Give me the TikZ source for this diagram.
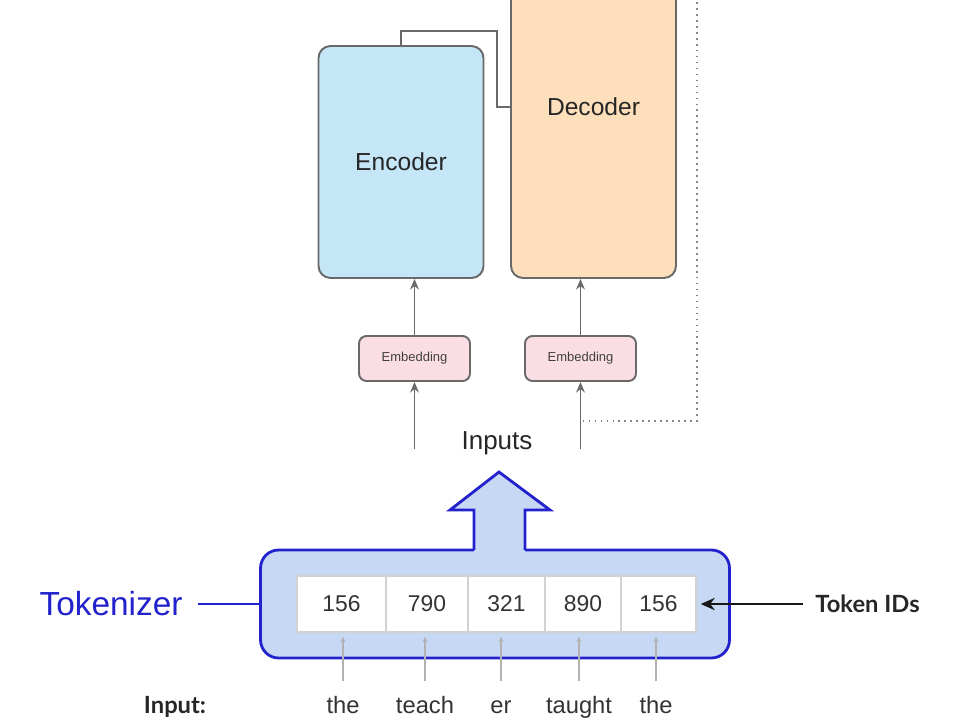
\documentclass[tikz,border=0pt]{standalone}
\usepackage{fontspec}
\setmainfont{Liberation Sans}
\newfontfamily\latofont{Lato}
\usepackage{tikz}
\usetikzlibrary{arrows.meta}

\definecolor{encfill}{RGB}{197,230,247}
\definecolor{decfill}{RGB}{253,223,187}
\definecolor{embfill}{RGB}{251,222,227}
\definecolor{tokfill}{RGB}{198,216,244}
\definecolor{tokblue}{RGB}{34,34,204}
\definecolor{boxgray}{RGB}{105,105,105}

\begin{document}
\begin{tikzpicture}[x=0.02cm,y=-0.02cm,
	block/.style={draw=boxgray,line width=1.1pt,rounded corners=0.24cm,minimum width=3.3cm},
	embed/.style={draw=boxgray,line width=1.1pt,rounded corners=0.15cm,fill=embfill,minimum width=2.22cm,minimum height=0.9cm,font=\fontsize{7.4}{8}\selectfont,text=black!75},
	gline/.style={draw=boxgray,line width=1.1pt},
	garrow/.style={gline,-{Stealth[length=6pt,width=5pt]}},
	cell/.style={draw=black!18,line width=0.8pt,fill=white,minimum height=1.12cm,font=\fontsize{13}{15}\selectfont,text=black!80},
	word/.style={font=\fontsize{13.5}{15}\selectfont,text=black!80,text height=10pt,text depth=3pt},
	tarrow/.style={draw=black!30,line width=0.9pt,-{Stealth[length=3pt,width=3pt]},shorten <=4.5pt,shorten >=2.4pt},
	big/.style={font=\fontsize{14}{16}\selectfont,text=black!85},
	boldlab/.style={font=\latofont\bfseries\fontsize{13.5}{15}\selectfont,text=black!85}]
	\useasboundingbox (0,0) rectangle (973,724);
	% encoder / decoder
	\node[block,fill=encfill,minimum height=4.64cm,big] (enc) at (401,162) {Encoder};
	\node[block,fill=decfill,minimum height=5.96cm] (dec) at (593.5,129) {};
	\node[big] at (593.5,107) {Decoder};
	\draw[gline] (enc.north) -- (401,31) -- (497,31) -- (497,107) -- (dec.west |- 497,107);
	\draw[boxgray!80,line width=1pt,dash pattern=on 1pt off 2.4pt] (697,-10) -- (697,421) -- (580.5,421);
	% embeddings
	\node[embed] (emb1) at (414.5,358.5) {Embedding};
	\node[embed] (emb2) at (580.5,358.5) {Embedding};
	\coordinate (in1) at (414.5,449);
	\coordinate (in2) at (580.5,449);
	\draw[garrow] (in1) -- (emb1);
	\draw[garrow] (emb1) -- (emb1.north |- enc.south);
	\draw[garrow] (in2) -- (emb2);
	\draw[garrow] (emb2) -- (emb2.north |- dec.south);
	\node[big,font=\fontsize{14.8}{16}\selectfont] (inp) at (497,443) {Inputs};
	% tokenizer
	\node[draw=tokblue,line width=1.6pt,fill=tokfill,rounded corners=0.36cm,minimum width=9.38cm,minimum height=2.16cm] (tkz) at (495,604) {};
	\fill[tokfill] (474,553) -- (474,510) -- (450,510) -- (499,472) -- (550,510) -- (525,510) -- (525,553) -- cycle;
	\draw[tokblue,line width=1.6pt,line cap=square] (474,550) -- (474,510) -- (450,510) -- (499,472) -- (550,510) -- (525,510) -- (525,550);
	\node[cell,minimum width=1.78cm] (c1) at (341.5,604) {156};
	\node[cell,minimum width=1.64cm] (c2) at (427,604) {790};
	\node[cell,minimum width=1.54cm] (c3) at (506.5,604) {321};
	\node[cell,minimum width=1.52cm] (c4) at (583,604) {890};
	\node[cell,minimum width=1.5cm] (c5) at (658.5,604) {156};
	\node[font=\fontsize{19}{21}\selectfont,text=tokblue] (tkl) at (111,604) {Tokenizer};
	\draw[tokblue,line width=1.1pt,shorten <=5.2pt] (tkl.east) -- (tkz.west);
	\node[boldlab] (tid) at (867.5,604) {Token IDs};
	\draw[black!90,line width=1.2pt,-{Stealth[length=8pt,width=7pt]},shorten <=3.4pt,shorten >=2.3pt] (tid.west) -- (c5.east);
	% input words
	\node[boldlab,text height=10pt,text depth=3pt] (inlab) at (175,707) {Input:};
	\node[word] (w1) at (343,707) {the};
	\node[word] (w2) at (425,707) {teach};
	\node[word] (w3) at (501,707) {er};
	\node[word] (w4) at (579,707) {taught};
	\node[word] (w5) at (656,707) {the};
	\draw[tarrow] (w1.north) -- (w1.north |- c1.south);
	\draw[tarrow] (w2.north) -- (w2.north |- c2.south);
	\draw[tarrow] (w3.north) -- (w3.north |- c3.south);
	\draw[tarrow] (w4.north) -- (w4.north |- c4.south);
	\draw[tarrow] (w5.north) -- (w5.north |- c5.south);
\end{tikzpicture}
\end{document}
